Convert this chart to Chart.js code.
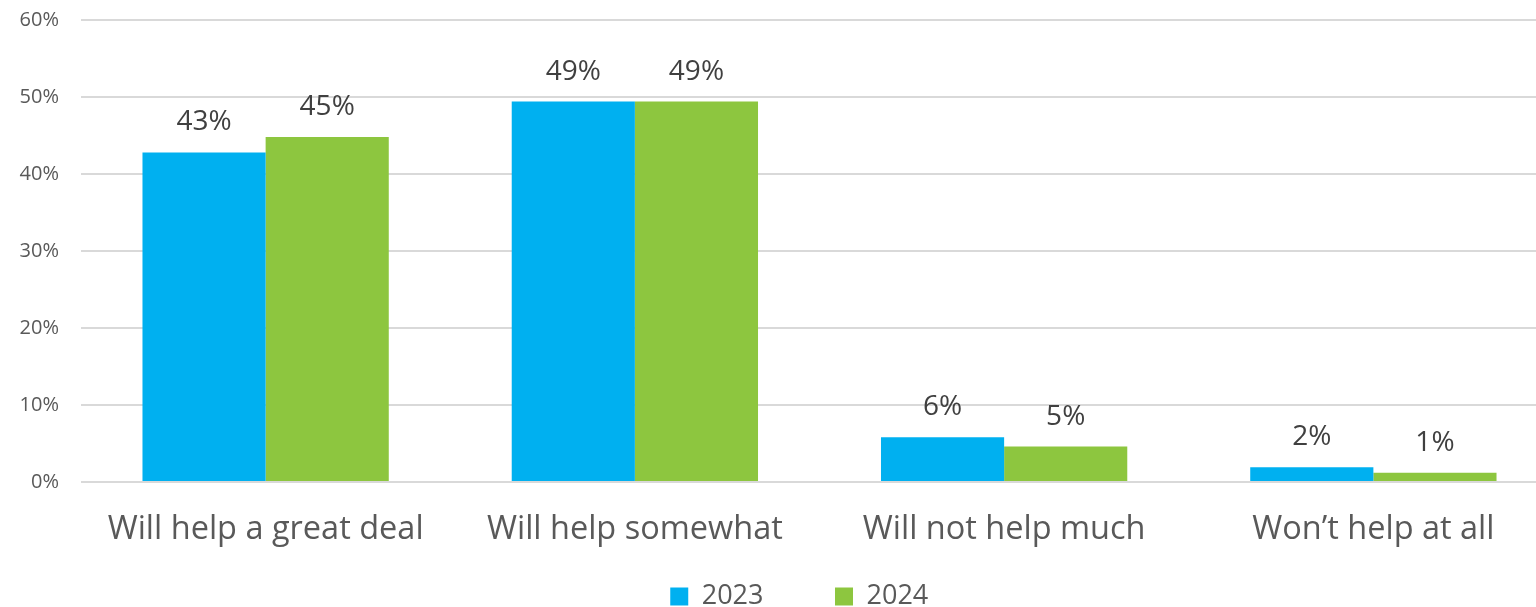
<!DOCTYPE html>
<html>
<head>
<meta charset="utf-8">
<script src="https://cdn.jsdelivr.net/npm/chart.js@4"></script>
<style>
  html, body { margin: 0; padding: 0; background: #fff; overflow: hidden; }
  #wrap { width: 1536px; height: 607px; overflow: hidden; position: relative; }
  #chart { position: absolute; left: 0; top: -14px; }
</style>
</head>
<body>
<div id="wrap"><canvas id="chart" width="1558" height="634"></canvas></div>
<script>
// DATA
const categories = ["Will help a great deal", "Will help somewhat", "Will not help much", "Won\u2019t help at all"];
const values2023 = [42.8, 49.4, 5.8, 1.9];
const values2024 = [44.8, 49.4, 4.6, 1.2];
const yTicks = [0, 10, 20, 30, 40, 50, 60];

const FONT = "'Open Sans', 'Noto Sans', sans-serif";

// draws the % value above each bar
const barLabels = {
  id: "barLabels",
  afterDatasetsDraw(chart) {
    const ctx = chart.ctx;
    ctx.save();
    ctx.font = "28px " + FONT;
    ctx.fillStyle = "#404040";
    ctx.textAlign = "center";
    ctx.textBaseline = "bottom";
    chart.data.datasets.forEach((ds, i) => {
      chart.getDatasetMeta(i).data.forEach((bar, j) => {
        ctx.fillText(Math.round(ds.data[j]) + "%", bar.x, bar.y - 16);
      });
    });
    ctx.restore();
  }
};

new Chart(document.getElementById("chart"), {
  type: "bar",
  data: {
    labels: categories,
    datasets: [
      { label: "2023", data: values2023, backgroundColor: "#00b0f0" },
      { label: "2024", data: values2024, backgroundColor: "#8dc63f" }
    ]
  },
  options: {
    responsive: false,
    animation: false,
    layout: { padding: { top: 8, right: 0, left: 0, bottom: 0 } },
    datasets: { bar: { categoryPercentage: 0.667, barPercentage: 1 } },
    plugins: {
      tooltip: { enabled: false },
      legend: {
        position: "bottom",
        fullSize: false,
        labels: {
          boxWidth: 18,
          boxHeight: 18,
          padding: 4,
          color: "#595959",
          font: { family: FONT, size: 27 },
          // wider gap between the two items without adding vertical space
          generateLabels(chart) {
            const items = Chart.defaults.plugins.legend.labels.generateLabels(chart);
            items[0].text += "\u2003\u2003\u2002";
            items[1].text += "\u2003\u2002";
            return items;
          }
        }
      }
    },
    scales: {
      x: {
        grid: { display: false },
        border: { display: false },
        afterFit(axis) { axis.height += 10; },
        ticks: { color: "#595959", padding: 20, font: { family: FONT, size: 32.5 } }
      },
      y: {
        min: 0,
        max: 60,
        afterBuildTicks(axis) { axis.ticks = yTicks.map(v => ({ value: v })); },
        afterFit(axis) { axis.width = 81; },
        grid: { color: "#d9d9d9", lineWidth: 2, drawTicks: false },
        border: { display: false },
        ticks: {
          color: "#595959",
          padding: 22,
          font: { family: FONT, size: 20 },
          callback: v => v + "%"
        }
      }
    }
  },
  plugins: [barLabels]
});
</script>
</body>
</html>
